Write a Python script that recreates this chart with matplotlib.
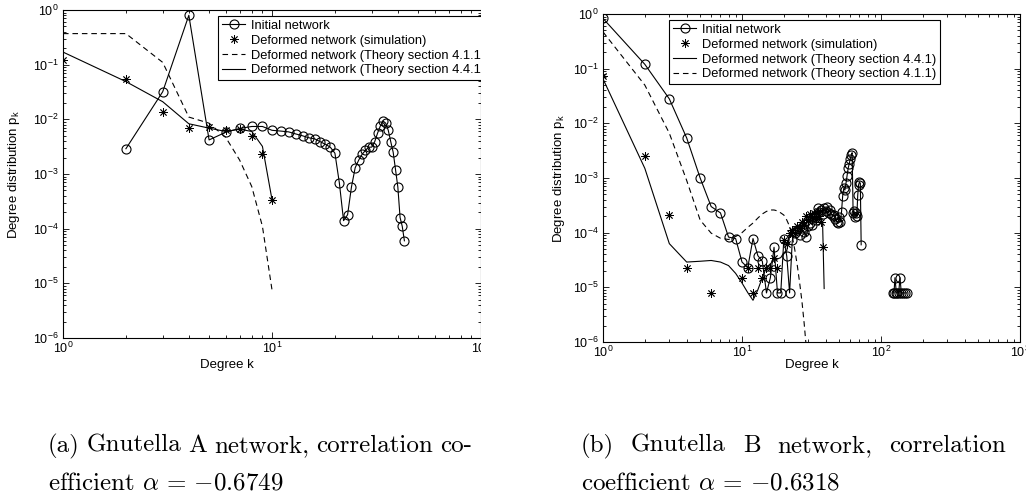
"""
Degree distributions of the Gnutella A / B networks, initial vs. deformed.
"""

import numpy as np
import matplotlib
matplotlib.use('Agg')
import matplotlib.pyplot as plt
from matplotlib.ticker import LogLocator, LogFormatterMathtext, NullFormatter
from matplotlib.patches import Rectangle

# ---- Gnutella A (left panel) ----
kA_init = [2, 3, 4, 5, 6, 7, 8, 9, 10, 11, 12, 13, 14, 15, 16, 17, 18, 19, 20,
           21, 22, 23, 24, 25, 26, 27, 28, 29, 30, 31, 32, 33, 34, 35, 36, 37,
           38, 39, 40, 41, 42, 43]
pA_init = [2.9e-3, 3.2e-2, 0.80, 4.2e-3, 5.8e-3, 6.8e-3, 7.4e-3, 7.4e-3, 6.3e-3,
           6.1e-3, 5.9e-3, 5.4e-3, 5.0e-3, 4.6e-3, 4.4e-3, 3.9e-3, 3.5e-3, 3.1e-3,
           2.4e-3, 6.9e-4, 1.4e-4, 1.8e-4, 5.8e-4, 1.3e-3, 1.8e-3, 2.3e-3, 2.7e-3,
           3.1e-3, 3.1e-3, 3.9e-3, 5.6e-3, 7.6e-3, 9.3e-3, 8.5e-3, 6.3e-3, 3.9e-3,
           2.5e-3, 1.2e-3, 5.8e-4, 1.6e-4, 1.1e-4, 6.0e-5]
kA_sim = [1, 2, 3, 4, 5, 6, 7, 8, 9, 10]
pA_sim = [0.12, 0.055, 0.0138, 6.9e-3, 7.2e-3, 6.4e-3, 6.6e-3, 4.9e-3, 2.3e-3, 3.4e-4]
kA_theory = [1, 2, 3, 4, 5, 6, 7, 8, 9, 10]
pA_th411 = [0.37, 0.37, 0.11, 0.011, 8.5e-3, 4.7e-3, 1.8e-3, 5.9e-4, 1.1e-4, 7.6e-6]
pA_th441 = [0.17, 0.049, 0.021, 8.3e-3, 6.9e-3, 6.0e-3, 6.6e-3, 6.0e-3, 3.2e-3, 3.4e-4]

# ---- Gnutella B (right panel) ----
kB_init = list(range(1, 73)) + [100] + [121, 124, 126, 129, 131, 134, 137, 140, 144, 148, 153]
pB_init = [0.83, 0.12, 0.028, 5.4e-3, 1.0e-3, 3.0e-4, 2.3e-4, 8.3e-5, 7.8e-5, 2.9e-5,
           2.3e-5, 7.8e-5, 3.8e-5, 3.0e-5, 7.9e-6, 1.5e-5, 5.4e-5, 7.9e-6, 7.9e-6, 7.6e-5,
           3.7e-5, 7.9e-6, 7.2e-5, 1.0e-4, 1.1e-4, 9.0e-5, 1.2e-4, 1.05e-4, 8.5e-5, 1.3e-4,
           1.5e-4, 1.4e-4, 1.9e-4, 1.7e-4, 2.8e-4, 2.4e-4, 2.6e-4, 2.2e-4, 2.8e-4, 2.5e-4,
           2.9e-4, 2.3e-4, 2.6e-4, 2.2e-4, 2.0e-4, 2.1e-4, 1.8e-4, 1.6e-4, 1.5e-4, 1.9e-4,
           1.6e-4, 2.4e-4, 4.7e-4, 6.5e-4, 6.0e-4, 8.0e-4, 1.1e-3, 1.5e-3, 1.8e-3, 2.2e-3,
           2.6e-3, 2.9e-3, 2.3e-4, 2.5e-4, 1.9e-4, 2.3e-4, 2.0e-4, 4.8e-4, 7.5e-4, 8.5e-4,
           8.0e-4, 6.0e-5,
           np.nan,
           7.9e-6, 7.9e-6, 1.5e-5, 7.9e-6, 7.9e-6, 7.9e-6, 1.5e-5, 7.9e-6, 7.9e-6, 7.9e-6, 7.9e-6]
kB_sim = [1, 2, 3, 4, 6, 10, 11, 12, 13, 14, 15, 16, 17, 18, 20, 21, 22, 23, 24, 25,
          26, 27, 28, 29, 30, 31, 32, 33, 34, 35, 36, 37, 38]
pB_sim = [0.072, 2.5e-3, 2.1e-4, 2.3e-5, 7.9e-6, 1.5e-5, 2.3e-5, 7.9e-6, 2.3e-5, 1.5e-5,
          2.3e-5, 2.3e-5, 3.4e-5, 2.3e-5, 7.2e-5, 6.3e-5, 1.0e-4, 1.1e-4, 1.0e-4, 1.3e-4,
          1.2e-4, 1.6e-4, 1.4e-4, 2.0e-4, 1.7e-4, 2.2e-4, 1.9e-4, 2.3e-4, 1.8e-4, 2.5e-4,
          2.0e-4, 1.6e-4, 5.5e-5]
kB_th441 = list(range(1, 40))
pB_th441 = [0.065, 1.5e-3, 6.3e-5, 2.9e-5, 3.0e-5, 3.1e-5, 2.9e-5, 2.5e-5, 1.8e-5, 1.2e-5,
            8.0e-6, 5.8e-6, 9.0e-6, 1.5e-5, 2.3e-5, 2.7e-5, 3.1e-5, 3.3e-5, 3.5e-5, 4.3e-5,
            4.7e-5, 9.0e-5, 1.0e-4, 1.2e-4, 1.3e-4, 1.4e-4, 1.6e-4, 1.7e-4, 1.8e-4, 1.9e-4,
            1.9e-4, 2.0e-4, 2.0e-4, 1.9e-4, 1.9e-4, 1.8e-4, 1.8e-4, 1.5e-4, 9.5e-6]
kB_th411 = list(range(1, 30))
pB_th411 = [0.47, 0.05, 6.6e-3, 9.0e-4, 1.7e-4, 9.8e-5, 7.9e-5, 7.5e-5, 8.5e-5, 1.0e-4,
            1.25e-4, 1.5e-4, 1.85e-4, 2.2e-4, 2.45e-4, 2.6e-4, 2.6e-4, 2.5e-4, 2.3e-4, 2.1e-4,
            1.7e-4, 1.3e-4, 8.5e-5, 4.8e-5, 2.5e-5, 1.2e-5, 5.5e-6, 2.2e-6, 8.0e-7]

lbl_init = 'Initial network'
lbl_sim = 'Deformed network (simulation)'
lbl_411 = 'Deformed network (Theory section 4.1.1)'
lbl_441 = 'Deformed network (Theory section 4.4.1)'
caption_a = ['(a) Gnutella A network, correlation co-', r'efficient $\alpha\,=\,{-}0.6749$']
caption_b = ['(b) Gnutella B network, correlation', r'coefficient $\alpha\,=\,{-}0.6318$']

plt.rcParams['font.family'] = ['Liberation Sans', 'DejaVu Sans']
plt.rcParams['axes.linewidth'] = 0.8

W, H = 1026, 499
fig = plt.figure(figsize=(W / 100, H / 100), dpi=100)


def px_axes(x0, y0, x1, y1):
    return fig.add_axes([x0 / W, 1 - y1 / H, (x1 - x0) / W, (y1 - y0) / H])


def style_axes(ax, xmax):
    ax.set_xscale('log')
    ax.set_yscale('log')
    ax.set_xlim(1, xmax)
    ax.set_ylim(1e-6, 1)
    for axis in (ax.xaxis, ax.yaxis):
        axis.set_major_locator(LogLocator(base=10, numticks=20))
        axis.set_minor_locator(LogLocator(base=10, subs=np.arange(2, 10), numticks=20))
        axis.set_major_formatter(LogFormatterMathtext())
        axis.set_minor_formatter(NullFormatter())
    ax.tick_params(which='both', direction='in', top=True, right=True,
                   labelsize=9, width=0.6)
    ax.tick_params(which='major', length=4)
    ax.tick_params(which='minor', length=2)
    ax.tick_params(axis='x', pad=2)
    ax.tick_params(axis='y', pad=3)


line_kw = dict(color='k', lw=0.8)
circ_kw = dict(marker='o', ms=6.5, mfc='none', mec='k', mew=0.8)
star_kw = dict(ls='none', marker=(8, 2, 0), ms=6, mec='k', mew=0.6, color='k')
dash_kw = dict(color='k', lw=0.8, dashes=(5, 3.5))


def add_legend(ax, x):
    leg = ax.legend(loc='upper left', bbox_to_anchor=(x, 0.982), borderaxespad=0,
                    fontsize=9.3, fancybox=False, edgecolor='k', framealpha=1,
                    handlelength=1.8, handletextpad=0.45, borderpad=0.3,
                    labelspacing=0.22)
    leg.get_frame().set_linewidth(0.8)


# left panel
axA = px_axes(63, 10, 481, 338)
axA.plot(kA_init, pA_init, label=lbl_init, **line_kw, **circ_kw)
axA.plot(kA_sim, pA_sim, label=lbl_sim, **star_kw)
axA.plot(kA_theory, pA_th411, label=lbl_411, **dash_kw)
axA.plot(kA_theory, pA_th441, label=lbl_441, **line_kw)
style_axes(axA, 100)
axA.set_xlabel('Degree k', fontsize=9.5, va='center')
axA.xaxis.set_label_coords((227 - 63) / 418, -0.082)
axA.set_ylabel(r'Degree distribution p$_{\mathdefault{k}}$', fontsize=9.5, va='center')
axA.yaxis.set_label_coords((14 - 63) / 418, 0.5)
add_legend(axA, (218 - 63) / 418)

# right panel
axB = px_axes(603, 14, 1020, 342)
axB.plot(kB_init, pB_init, label=lbl_init, **line_kw, **circ_kw)
axB.plot(kB_sim, pB_sim, label=lbl_sim, **star_kw)
axB.plot(kB_th441, pB_th441, label=lbl_441, **line_kw)
axB.plot(kB_th411, pB_th411, label=lbl_411, **dash_kw)
style_axes(axB, 1000)
axB.set_xlabel('Degree k', fontsize=9.5, va='center')
axB.xaxis.set_label_coords(0.5, -0.070)
axB.set_ylabel(r'Degree distribution p$_{\mathdefault{k}}$', fontsize=9.5, va='center')
axB.yaxis.set_label_coords((559 - 603) / 417, 0.5)
add_legend(axB, (669 - 603) / 417)

# the left panel was cropped at its right edge in the source
fig.add_artist(Rectangle((480.5 / W, 0.24), (548 - 480.5) / W, 0.76,
                         transform=fig.transFigure, fc='white', ec='none', zorder=10))

# captions (justified lines, LaTeX look)
cap_kw = dict(fontsize=18, family='cmr10', math_fontfamily='cm', va='baseline')


def justified(words, x0, x1, y):
    texts = [fig.text(0, 1 - y / H, w, **cap_kw) for w in words]
    fig.canvas.draw()
    r = fig.canvas.get_renderer()
    widths = [t.get_window_extent(r).width for t in texts]
    gap = (x1 - x0 - sum(widths)) / (len(words) - 1)
    x = x0
    for t, w in zip(texts, widths):
        t.set_x(x / W)
        x += w + gap


justified(caption_a[0].split(' '), 48, 472, 452)
fig.text(48 / W, 1 - 489 / H, caption_a[1], **cap_kw)
justified(caption_b[0].split(' '), 581, 1006, 452)
fig.text(581 / W, 1 - 489 / H, caption_b[1], **cap_kw)

fig.savefig('out.png', dpi=100)
